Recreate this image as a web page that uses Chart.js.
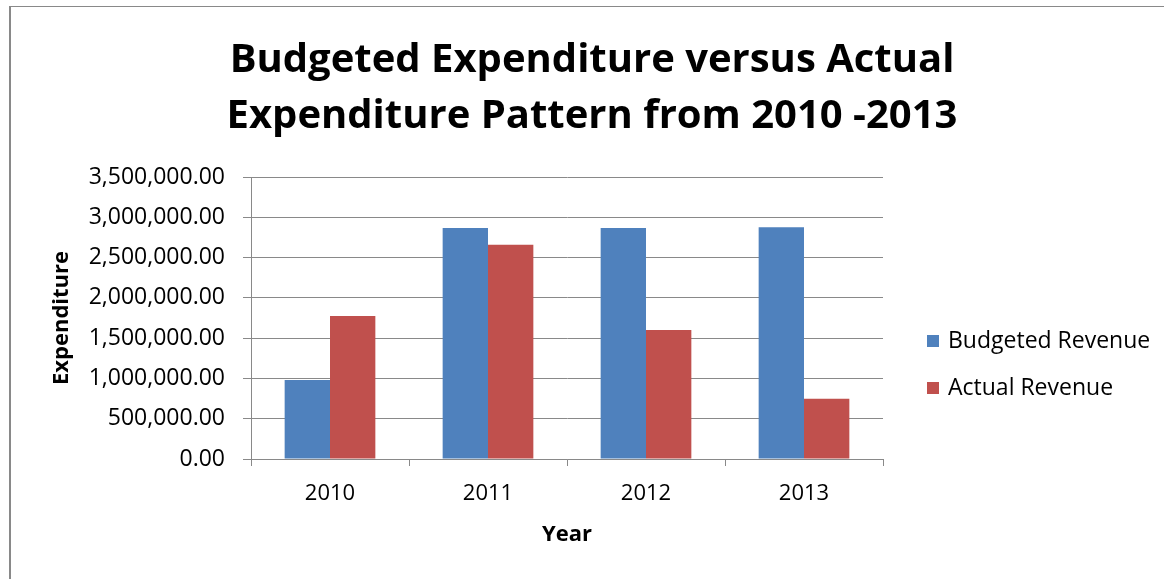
<!DOCTYPE html>
<html>
<head>
<meta charset="utf-8">
<script src="https://cdn.jsdelivr.net/npm/chart.js@4.4.1/dist/chart.umd.min.js"></script>
<style>
  html, body { margin: 0; padding: 0; background: #fff; overflow: hidden; }
  #wrap { position: relative; width: 1164px; height: 579px; }
  #chart { position: absolute; left: 0; top: 0; }
  #frame {
    position: absolute; left: 9px; top: 6px; right: -10px; bottom: -10px;
    border-left: 2px solid #898989; border-top: 1px solid #898989;
    pointer-events: none;
  }
</style>
</head>
<body>
<div id="wrap">
  <canvas id="chart" width="1164" height="579"></canvas>
  <div id="frame"></div>
</div>
<script>
// Data
const years = ['2010', '2011', '2012', '2013'];
const budgetedRevenue = [980000, 2867000, 2867000, 2876000];
const actualRevenue = [1775000, 2660000, 1601000, 749000];
const seriesNames = ['Budgeted Revenue', 'Actual Revenue'];
const seriesColors = ['#4F81BD', '#C0504D'];
const titleLines = ['Budgeted Expenditure versus Actual', 'Expenditure Pattern from 2010 -2013'];
const yAxisTitle = 'Expenditure';
const xAxisTitle = 'Year';
const yMin = 0, yMax = 3500000, yStep = 500000;

const FONT = '"Open Sans", Lato, sans-serif';
const GRID = '#898989';

// Legend drawn to the right of the plot area
const sideLegend = {
  id: 'sideLegend',
  afterDraw(chart, args, opts) {
    const ctx = chart.ctx;
    ctx.save();
    ctx.font = opts.font;
    ctx.textBaseline = 'middle';
    ctx.textAlign = 'left';
    chart.data.datasets.forEach((ds, i) => {
      const y = opts.y + i * opts.spacing;
      ctx.fillStyle = ds.backgroundColor;
      ctx.fillRect(opts.x, y - opts.box / 2, opts.box, opts.box);
      ctx.fillStyle = '#000';
      ctx.fillText(ds.label, opts.x + opts.box + opts.gap, y);
    });
    ctx.restore();
  }
};

const fmt = v => Number(v).toLocaleString('en-US', { minimumFractionDigits: 2, maximumFractionDigits: 2 });

new Chart(document.getElementById('chart'), {
  type: 'bar',
  data: {
    labels: years,
    datasets: [
      { label: seriesNames[0], data: budgetedRevenue, backgroundColor: seriesColors[0], borderWidth: 0 },
      { label: seriesNames[1], data: actualRevenue, backgroundColor: seriesColors[1], borderWidth: 0 }
    ]
  },
  plugins: [sideLegend],
  options: {
    responsive: false,
    animation: false,
    devicePixelRatio: 1,
    layout: { padding: { left: 20, right: 0, top: 0, bottom: 0 } },
    datasets: { bar: { categoryPercentage: 0.574, barPercentage: 1 } },
    plugins: {
      legend: { display: false },
      tooltip: { enabled: false },
      title: {
        display: true,
        text: titleLines,
        color: '#000',
        font: { family: FONT, size: 40, weight: 'bold', lineHeight: 1.3875 },
        padding: { top: 33, bottom: 33 }
      },
      sideLegend: { x: 927, y: 341, spacing: 47, box: 12, gap: 9, font: '23px ' + FONT }
    },
    scales: {
      x: {
        grid: { display: true, drawOnChartArea: false, drawTicks: true, tickLength: 7, color: GRID, offset: true },
        border: { display: true, color: GRID, width: 1 },
        ticks: { color: '#000', font: { family: FONT, size: 22 }, padding: 15 },
        title: { display: true, text: xAxisTitle, color: '#000', font: { family: FONT, size: 22, weight: 'bold' }, padding: { top: 0, bottom: 31 } },
        afterFit(s) { s.height = 120; }
      },
      y: {
        min: yMin, max: yMax,
        ticks: { stepSize: yStep, color: '#000', font: { family: FONT, size: 23 }, padding: 18, callback: v => fmt(v) },
        grid: { color: GRID, lineWidth: 1, tickLength: 8, drawTicks: true },
        border: { display: true, color: GRID, width: 1 },
        title: { display: true, text: yAxisTitle, color: '#000', font: { family: FONT, size: 22, weight: 'bold' }, padding: { top: 29, bottom: 0 } },
        afterFit(s) { s.width = 231; }
      },
      legendSpace: {
        type: 'linear', position: 'right', display: true,
        grid: { display: false }, border: { display: false }, ticks: { display: false },
        afterFit(s) { s.width = 281; }
      }
    }
  }
});
</script>
</body>
</html>
